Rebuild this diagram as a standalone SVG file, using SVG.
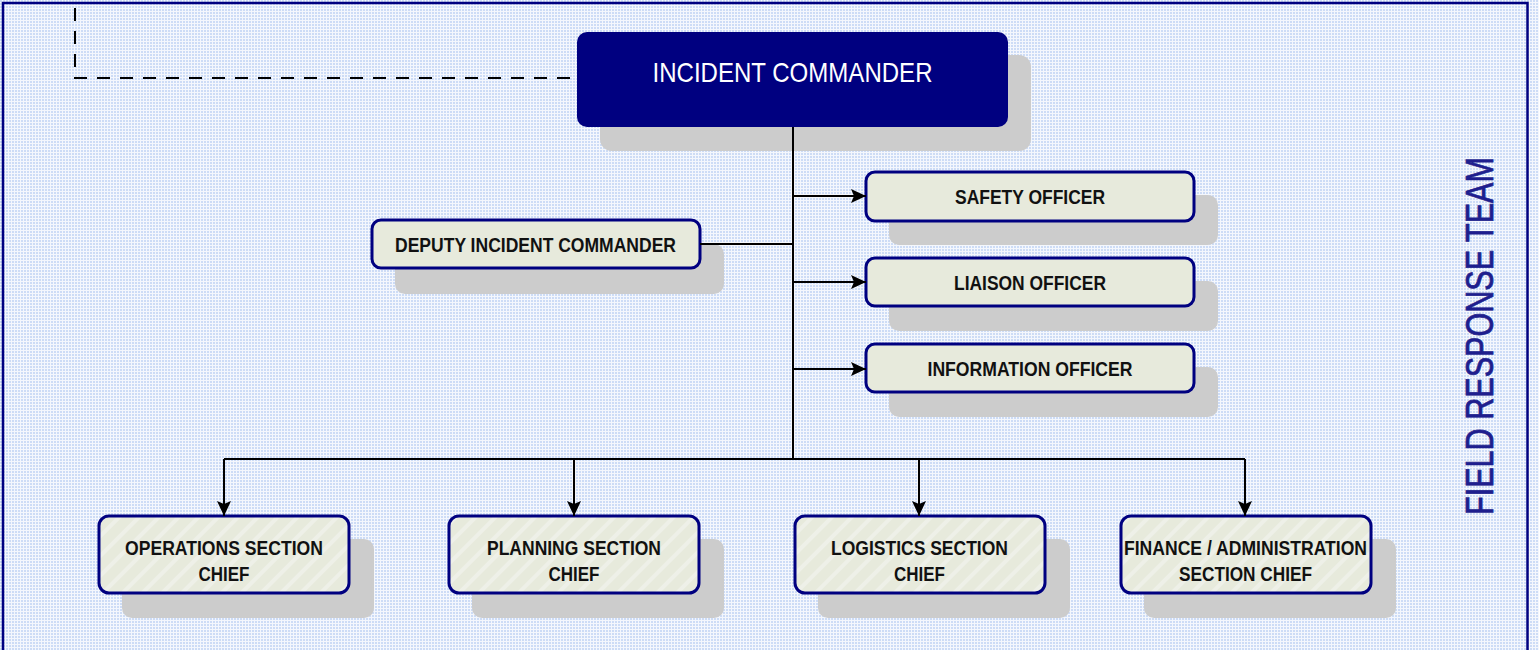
<svg xmlns="http://www.w3.org/2000/svg" width="1539" height="650" viewBox="0 0 1539 650">
<style>
.shadow{fill:#cccccc}
.box{fill:#e7eadc;stroke:#000080;stroke-width:3}
.sbox{fill:url(#stripes);stroke:#000080;stroke-width:3}
.lbl{font-family:"Liberation Sans Narrow","Liberation Sans",Arial,sans-serif;font-weight:bold;font-size:20px;fill:#111111;text-anchor:middle}
.conn{stroke:#000000;stroke-width:2;fill:none}
</style>
<defs>
<pattern id="dots" width="3" height="3" patternUnits="userSpaceOnUse">
<rect width="3" height="3" fill="#f4f7fd"/>
<rect width="2" height="2" fill="#cddcf6"/>
</pattern>
<pattern id="stripes" width="14" height="14" patternUnits="userSpaceOnUse" patternTransform="rotate(-45)">
<rect width="14" height="14" fill="#e7eadc"/>
<rect width="14" height="4" fill="#eef0e8"/>
</pattern>
<marker id="arr" viewBox="0 0 15 14" refX="15" refY="7" markerWidth="15" markerHeight="14" markerUnits="userSpaceOnUse" orient="auto">
<path d="M0,0 L15,7 L0,14 L3,7 Z" fill="#000000"/>
</marker>
</defs>
<rect x="0" y="0" width="1539" height="650" fill="url(#dots)"/>
<rect x="3" y="3" width="1524.5" height="700" fill="none" stroke="#000080" stroke-width="2.5"/>

<g id="incident-commander">
<rect class="shadow" x="600" y="55" width="431" height="96" rx="12"/>
<rect x="577" y="32" width="431" height="95" rx="10" fill="#000080"/>
<text x="792.5" y="82" font-family="'Liberation Sans Narrow','Liberation Sans',Arial,sans-serif" font-size="28" fill="#ffffff" text-anchor="middle" textLength="280" lengthAdjust="spacingAndGlyphs">INCIDENT COMMANDER</text>
</g>

<g id="safety-officer">
<rect class="shadow" x="889" y="195" width="329" height="50" rx="10"/>
<rect class="box" x="866" y="172" width="328" height="49" rx="9"/>
<text class="lbl" x="1030" y="204" textLength="150" lengthAdjust="spacingAndGlyphs">SAFETY OFFICER</text>
</g>

<g id="liaison-officer">
<rect class="shadow" x="889" y="281" width="329" height="50" rx="10"/>
<rect class="box" x="866" y="258" width="328" height="48" rx="9"/>
<text class="lbl" x="1030" y="290" textLength="152" lengthAdjust="spacingAndGlyphs">LIAISON OFFICER</text>
</g>

<g id="information-officer">
<rect class="shadow" x="889" y="367" width="329" height="50" rx="10"/>
<rect class="box" x="866" y="344" width="328" height="48" rx="9"/>
<text class="lbl" x="1030" y="376" textLength="205" lengthAdjust="spacingAndGlyphs">INFORMATION OFFICER</text>
</g>

<g id="deputy-incident-commander">
<rect class="shadow" x="395" y="244" width="329" height="50" rx="10"/>
<rect class="box" x="372" y="220" width="328" height="48" rx="9"/>
<text class="lbl" x="535.5" y="252" textLength="281" lengthAdjust="spacingAndGlyphs">DEPUTY INCIDENT COMMANDER</text>
</g>

<g id="operations-section-chief">
<rect class="shadow" x="122" y="539" width="252" height="79" rx="10"/>
<rect class="sbox" x="99" y="516" width="250" height="77" rx="10"/>
<text class="lbl" x="224" y="555" textLength="198" lengthAdjust="spacingAndGlyphs">OPERATIONS SECTION</text>
<text class="lbl" x="224" y="581" textLength="51" lengthAdjust="spacingAndGlyphs">CHIEF</text>
</g>

<g id="planning-section-chief">
<rect class="shadow" x="472" y="539" width="252" height="79" rx="10"/>
<rect class="sbox" x="449" y="516" width="250" height="77" rx="10"/>
<text class="lbl" x="574" y="555" textLength="174" lengthAdjust="spacingAndGlyphs">PLANNING SECTION</text>
<text class="lbl" x="574" y="581" textLength="51" lengthAdjust="spacingAndGlyphs">CHIEF</text>
</g>

<g id="logistics-section-chief">
<rect class="shadow" x="818" y="539" width="252" height="79" rx="10"/>
<rect class="sbox" x="795" y="516" width="250" height="77" rx="10"/>
<text class="lbl" x="919.5" y="555" textLength="177" lengthAdjust="spacingAndGlyphs">LOGISTICS SECTION</text>
<text class="lbl" x="919.5" y="581" textLength="51" lengthAdjust="spacingAndGlyphs">CHIEF</text>
</g>

<g id="finance-administration-section-chief">
<rect class="shadow" x="1144" y="539" width="252" height="79" rx="10"/>
<rect class="sbox" x="1121" y="516" width="250" height="77" rx="10"/>
<text class="lbl" x="1245.5" y="555" textLength="243" lengthAdjust="spacingAndGlyphs">FINANCE / ADMINISTRATION</text>
<text class="lbl" x="1245.5" y="581" textLength="133" lengthAdjust="spacingAndGlyphs">SECTION CHIEF</text>
</g>

<g id="connectors">
<path d="M75,8 V78 H577" stroke="#000000" stroke-width="2" fill="none" stroke-dasharray="13,10"/>
<path class="conn" d="M793,127 V459"/>
<path class="conn" d="M793,196 H866" marker-end="url(#arr)"/>
<path class="conn" d="M793,282 H866" marker-end="url(#arr)"/>
<path class="conn" d="M793,369 H866" marker-end="url(#arr)"/>
<path class="conn" d="M700,244 H793"/>
<path class="conn" d="M224,459 H1245"/>
<path class="conn" d="M224,459 V516" marker-end="url(#arr)"/>
<path class="conn" d="M574,459 V516" marker-end="url(#arr)"/>
<path class="conn" d="M919,459 V516" marker-end="url(#arr)"/>
<path class="conn" d="M1245,459 V516" marker-end="url(#arr)"/>
</g>

<g id="field-response-team">
<text transform="translate(1493,336) rotate(-90)" x="0" y="0" font-family="'Liberation Sans Narrow','Liberation Sans',Arial,sans-serif" font-size="38" fill="#1e1e8e" stroke="#1e1e8e" stroke-width="0.8" text-anchor="middle" textLength="358" lengthAdjust="spacingAndGlyphs">FIELD RESPONSE TEAM</text>
</g>
</svg>
